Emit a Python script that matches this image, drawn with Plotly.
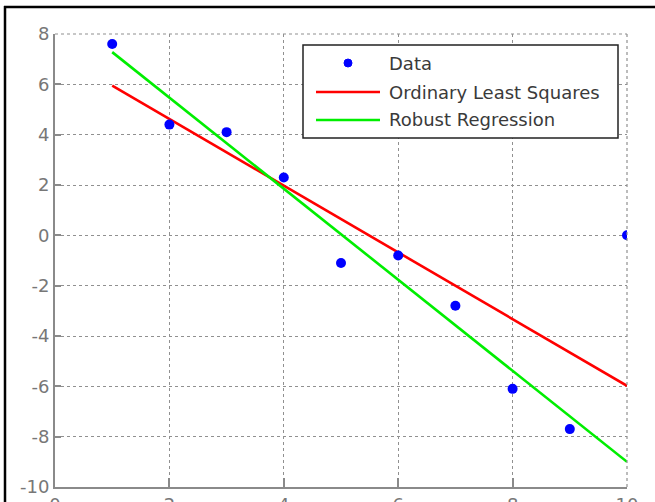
import plotly.graph_objects as go

# Observations
x_data = [1, 2, 3, 4, 5, 6, 7, 8, 9, 10]
y_data = [7.6, 4.4, 4.1, 2.3, -1.1, -0.8, -2.8, -6.1, -7.7, 0.0]

# Fitted lines evaluated at the ends of the data range
fit_x = [1, 10]
ols_y = [5.95, -5.98]
robust_y = [7.28, -9.0]

x_ticks = [0, 2, 4, 6, 8, 10]
y_ticks = [-10, -8, -6, -4, -2, 0, 2, 4, 6, 8]
x_labels = [str(v) for v in x_ticks]
y_labels = [str(v) for v in y_ticks]  # plain hyphen-minus

W, H = 655, 502
L, R, T, B = 55, 28, 34, 15
PW, PH = W - L - R, H - T - B
FONT = "DejaVu Sans, Liberation Sans, Arial"
AXIS_GRAY = "#8a8a8a"


def px(xp):
    return (xp - L) / PW


def py(yp):
    return (H - B - yp) / PH


fig = go.Figure()
fig.add_trace(go.Scatter(x=fit_x, y=ols_y, mode="lines",
                         line=dict(color="#ff0000", width=2.6), name="Ordinary Least Squares"))
fig.add_trace(go.Scatter(x=fit_x, y=robust_y, mode="lines",
                         line=dict(color="#00ee00", width=2.6), name="Robust Regression"))
fig.add_trace(go.Scatter(x=x_data, y=y_data, mode="markers",
                         marker=dict(color="#0000ff", size=10), name="Data"))

grid = dict(showgrid=True, gridcolor="#909090", griddash="3px,3px", gridwidth=1.2)
fig.update_xaxes(range=[0, 10], tickvals=x_ticks, ticktext=x_labels, ticks="inside",
                 ticklen=9, tickcolor=AXIS_GRAY, tickwidth=2, showline=True,
                 linecolor=AXIS_GRAY, linewidth=2, zeroline=False, automargin=False, **grid)
fig.update_yaxes(range=[-10, 8], tickvals=y_ticks, ticktext=y_labels, ticks="inside",
                 ticklen=6, tickcolor=AXIS_GRAY, tickwidth=2, showline=True,
                 linecolor=AXIS_GRAY, linewidth=2, zeroline=False, automargin=False, **grid)

shapes = []
# dashed top and right edges of the axes box
shapes.append(dict(type="line", xref="paper", yref="paper", x0=0, x1=1, y0=1, y1=1,
                   line=dict(color="#909090", width=1.2, dash="3px,3px")))
shapes.append(dict(type="line", xref="paper", yref="paper", x0=1, x1=1, y0=0, y1=1,
                   line=dict(color="#909090", width=1.2, dash="3px,3px")))
# outer frame (top and left)
shapes.append(dict(type="line", xref="paper", yref="paper", x0=px(4), x1=px(W + 5),
                   y0=py(7), y1=py(7), line=dict(color="#000", width=2.5)))
shapes.append(dict(type="line", xref="paper", yref="paper", x0=px(5), x1=px(5),
                   y0=py(6), y1=py(H + 5), line=dict(color="#000", width=2.5)))
# legend box
shapes.append(dict(type="rect", xref="paper", yref="paper", x0=px(303), x1=px(618),
                   y0=py(138), y1=py(45), fillcolor="white",
                   line=dict(color="#222", width=1.5), layer="above"))
shapes.append(dict(type="circle", xref="paper", yref="paper", x0=px(344), x1=px(352),
                   y0=py(67), y1=py(59), fillcolor="#0000ff",
                   line=dict(color="#0000ff", width=1), layer="above"))
shapes.append(dict(type="line", xref="paper", yref="paper", x0=px(316), x1=px(380),
                   y0=py(92), y1=py(92), line=dict(color="#ff0000", width=2.6), layer="above"))
shapes.append(dict(type="line", xref="paper", yref="paper", x0=px(316), x1=px(380),
                   y0=py(120), y1=py(120), line=dict(color="#00ee00", width=2.6), layer="above"))

annotations = []
for label, yp in [("Data", 63), ("Ordinary Least Squares", 92), ("Robust Regression", 120)]:
    annotations.append(dict(xref="paper", yref="paper", x=px(387), y=py(yp), text=label,
                            showarrow=False, xanchor="left", yanchor="middle",
                            font=dict(family=FONT, size=18, color="#3a3a3a")))

fig.update_layout(
    width=W, height=H, margin=dict(l=L, r=R, t=T, b=B, pad=0),
    paper_bgcolor="white", plot_bgcolor="white", showlegend=False,
    font=dict(family=FONT, size=18, color="#777"),
    shapes=shapes, annotations=annotations,
)

fig.write_html("out.html")
